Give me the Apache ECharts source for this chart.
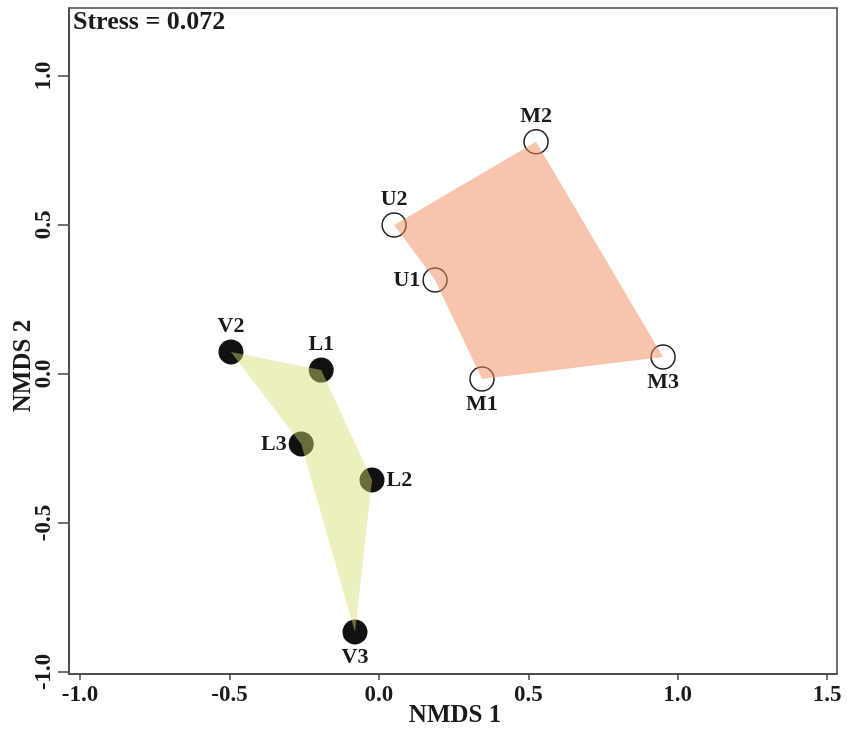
<!DOCTYPE html>
<html><head><meta charset="utf-8">
<script src="https://cdn.jsdelivr.net/npm/echarts@6/dist/echarts.min.js"></script>
<style>html,body{margin:0;padding:0;background:#fff}#c{width:847px;height:731px}</style>
</head><body><div id="c"></div>
<script>
// Group 1 (filled circles): V and L sites
const groupA_names = ['V2','L1','L2','V3','L3'];
const groupA_x = [-0.495, -0.193, -0.023, -0.080, -0.260];
const groupA_y = [0.074, 0.013, -0.356, -0.866, -0.235];
const groupA_labelPos = ['top','top','right','bottom','left'];
// Group 2 (open circles): U and M sites
const groupB_names = ['U2','M2','M3','M1','U1'];
const groupB_x = [0.051, 0.526, 0.951, 0.345, 0.188];
const groupB_y = [0.500, 0.779, 0.057, -0.017, 0.315];
const groupB_labelPos = ['top','top','bottom','bottom','left'];
const xTicks = [-1.0, -0.5, 0.0, 0.5, 1.0, 1.5];
const yTicks = [-1.0, -0.5, 0.0, 0.5, 1.0];
const stressText = 'Stress = 0.072';
const xTitle = 'NMDS 1';
const yTitle = 'NMDS 2';

const FONT = '"Liberation Serif", "Times New Roman", serif';
const chart = echarts.init(document.getElementById('c'), null, {renderer:'canvas'});

function pts(names, xs, ys, pos) {
  return names.map((n,i)=>({name:n, value:[xs[i], ys[i]], label:{position:pos[i]}}));
}
function polySeries(xs, ys, color, z) {
  return {
    type:'custom', z:z, silent:true,
    data:[[0,0]],
    renderItem:function(params, api){
      const points = xs.map((x,i)=>api.coord([x, ys[i]]));
      return {type:'polygon', shape:{points:points}, style:{fill:color, stroke:null}};
    }
  };
}
const labelStyle = {show:true, formatter:'{b}', color:'#1a1a1a', fontFamily:FONT, fontWeight:'bold', fontSize:22, distance:2};

chart.setOption({
  animation:false,
  backgroundColor:'#fff',
  grid:{left:69, right:10, top:8, bottom:57, show:true, borderColor:'#444', borderWidth:1.5, backgroundColor:'transparent'},
  xAxis:{
    type:'value', min:-1.037, max:1.533,
    axisLine:{show:true, onZero:false, lineStyle:{color:'#444', width:1.5}},
    axisTick:{show:true, length:6, customValues:xTicks, lineStyle:{color:'#444', width:1.5}},
    axisLabel:{customValues:xTicks, formatter:v=>v.toFixed(1), color:'#1a1a1a', fontFamily:FONT, fontWeight:'bold', fontSize:23, margin:10},
    splitLine:{show:false}
  },
  yAxis:{
    type:'value', min:-1.007, max:1.228,
    axisLine:{show:true, onZero:false, lineStyle:{color:'#444', width:1.5}},
    axisTick:{show:true, length:11, customValues:yTicks, lineStyle:{color:'#444', width:1.5}},
    axisLabel:{customValues:yTicks, formatter:v=>v.toFixed(1), rotate:90, color:'#1a1a1a', fontFamily:FONT, fontWeight:'bold', fontSize:23, margin:13},
    splitLine:{show:false}
  },
  graphic:[
    {type:'text', left:73, top:9, style:{text:stressText, font:'bold 26px '+FONT, fill:'#1a1a1a'}},
    {type:'text', x:455, y:716, style:{text:xTitle, font:'bold 25px '+FONT, fill:'#1a1a1a', align:'center', verticalAlign:'middle'}},
    {type:'text', x:24, y:366, rotation:Math.PI/2, style:{text:yTitle, font:'bold 25px '+FONT, fill:'#1a1a1a', align:'center', verticalAlign:'middle'}}
  ],
  series:[
    {type:'scatter', z:2, symbol:'circle', symbolSize:25,
     itemStyle:{color:'#111', opacity:1},
     label:labelStyle,
     data:pts(groupA_names, groupA_x, groupA_y, groupA_labelPos)},
    {type:'scatter', z:2, symbol:'circle', symbolSize:24,
     itemStyle:{color:'rgba(0,0,0,0)', borderColor:'#222', borderWidth:1.5, opacity:1},
     label:labelStyle,
     data:pts(groupB_names, groupB_x, groupB_y, groupB_labelPos)},
    polySeries(groupA_x, groupA_y, 'rgba(215,222,110,0.45)', 3),
    polySeries(groupB_x, groupB_y, 'rgba(241,137,87,0.5)', 3)
  ]
});
</script></body></html>
